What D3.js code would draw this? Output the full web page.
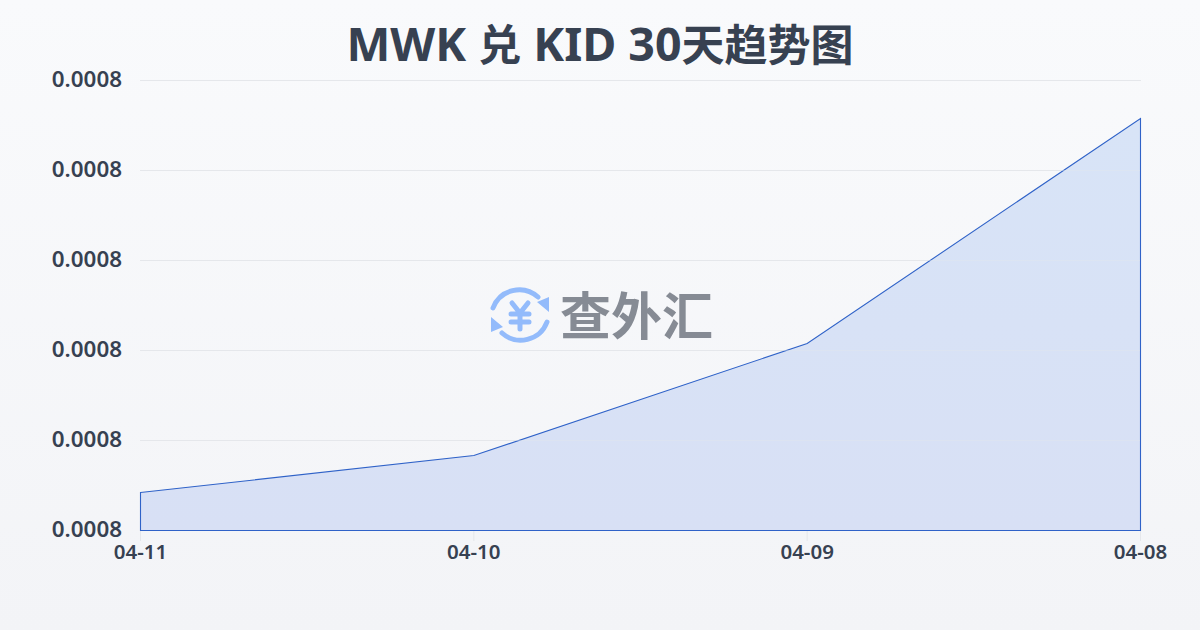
<!DOCTYPE html>
<html>
<head>
<meta charset="utf-8">
<script src="https://cdn.jsdelivr.net/npm/d3@7"></script>
<style>
html, body { margin: 0; padding: 0; }
svg { display: block; }
text { font-family: "Noto Sans", "Noto Sans CJK SC", sans-serif; }
</style>
</head>
<body>
<svg id="container" width="1200" height="630"></svg>
<script>
// data
const DATES = ['04-11', '04-10', '04-09', '04-08'];
const RATES = [0.00078422, 0.00078833, 0.00080078, 0.00082578];
const Y_TICKS = [0.00078, 0.00079, 0.0008, 0.00081, 0.00082, 0.00083];
const TITLE_PARTS = ['MWK ', '兑', ' KID 30', '天趋势图'];
const WATERMARK = '查外汇';

const W = 1200, H = 630;
const DARK = '#374151', LINE = '#2f62c8', LOGO = '#93bbfb';

var svg = d3.select('#container');

// background
var defs = svg.append('defs');
var bg = defs.append('linearGradient').attr('id', 'bg')
	.attr('x1', 0).attr('y1', 0).attr('x2', 0).attr('y2', 1);
bg.append('stop').attr('offset', '0%').attr('stop-color', '#f9fafc');
bg.append('stop').attr('offset', '100%').attr('stop-color', '#f3f4f7');
var fill = defs.append('linearGradient').attr('id', 'fill')
	.attr('x1', 0).attr('y1', 0).attr('x2', 0).attr('y2', 1);
fill.append('stop').attr('offset', '0%').attr('stop-color', '#d8e4f7');
fill.append('stop').attr('offset', '100%').attr('stop-color', '#d8e0f5');
svg.append('rect').attr('width', W).attr('height', H).attr('fill', 'url(#bg)');

// scales
var x = d3.scalePoint().domain(DATES).range([140.5, 1140.5]);
var y = d3.scaleLinear().domain([Y_TICKS[0], Y_TICKS[Y_TICKS.length - 1]]).range([530.5, 80.5]);

// grid
svg.append('g').selectAll('line')
	.data(Y_TICKS)
	.enter()
	.append('line')
	.attr('x1', 140).attr('x2', 1141)
	.attr('y1', function(d) { return y(d); })
	.attr('y2', function(d) { return y(d); })
	.attr('stroke', '#e5e7eb')
	.attr('stroke-width', 1);

// x ticks
svg.append('g').selectAll('line')
	.data(DATES)
	.enter()
	.append('line')
	.attr('x1', function(d) { return x(d); })
	.attr('x2', function(d) { return x(d); })
	.attr('y1', 531)
	.attr('y2', 541)
	.attr('stroke', '#e5e7eb')
	.attr('stroke-width', 1);

// area
var area = d3.area()
	.x(function(d, i) { return x(DATES[i]); })
	.y0(y(Y_TICKS[0]))
	.y1(function(d) { return y(d); });
svg.append('path')
	.datum(RATES)
	.attr('d', area(RATES))
	.attr('fill', 'url(#fill)')
	.attr('stroke', LINE)
	.attr('stroke-width', 1.1)
	.attr('stroke-linejoin', 'miter');

// grid shows faintly through the fill
svg.append('g').selectAll('line')
	.data(Y_TICKS.slice(1))
	.enter()
	.append('line')
	.attr('x1', 141).attr('x2', 1140)
	.attr('y1', function(d) { return y(d); })
	.attr('y2', function(d) { return y(d); })
	.attr('stroke', '#e5e7eb')
	.attr('stroke-opacity', function(d) { return y(d) > 120 ? 0.35 : 0; });

// axes text
svg.append('g').selectAll('text')
	.data(Y_TICKS)
	.enter()
	.append('text')
	.attr('x', 122)
	.attr('y', function(d) { return y(d) + 6; })
	.attr('text-anchor', 'end')
	.attr('fill', DARK)
	.style('font-size', '22.4px')
	.style('font-weight', 600)
	.text(function(d) { return d3.format('.4f')(d); });

svg.append('g').selectAll('text')
	.data(DATES)
	.enter()
	.append('text')
	.attr('x', function(d) { return x(d); })
	.attr('y', 559)
	.attr('text-anchor', 'middle')
	.attr('fill', DARK)
	.style('font-size', '20.5px')
	.style('font-weight', 600)
	.text(function(d) { return d; });

// title, latin runs are a little larger than the chinese ones
svg.append('text')
	.attr('x', W / 2)
	.attr('y', 61)
	.attr('text-anchor', 'middle')
	.attr('fill', DARK)
	.style('font-weight', 700)
	.style('white-space', 'pre')
	.selectAll('tspan')
	.data(TITLE_PARTS)
	.enter()
	.append('tspan')
	.style('font-size', function(d, i) { return i % 2 ? '43px' : '46.5px'; })
	.text(function(d) { return d; });

// watermark
var mark = svg.append('g').attr('transform', 'translate(520,315)');
mark.append('path')
	.attr('d', 'M-27,-7 A28,28 0 0 1 18,-18 M27,7 A28,28 0 0 1 -18,18')
	.attr('fill', 'none').attr('stroke', LOGO).attr('stroke-width', 5).attr('stroke-linecap', 'round');
mark.append('path').attr('d', 'M29,-18 L29,-3 L17,-13 Z M-29,2 L-29,17 L-17,12 Z').attr('fill', LOGO);
mark.append('path')
	.attr('d', 'M-8,-12 L0,-2 L8,-12 M-9,-1 H9 M-9,7 H9 M0,-2 V14')
	.attr('fill', 'none').attr('stroke', LOGO).attr('stroke-width', 5).attr('stroke-linecap', 'round');
svg.append('text')
	.attr('x', 560)
	.attr('y', 335)
	.attr('fill', '#868b94')
	.style('font-size', '51px')
	.style('font-weight', 700)
	.text(WATERMARK);
</script>
</body>
</html>
